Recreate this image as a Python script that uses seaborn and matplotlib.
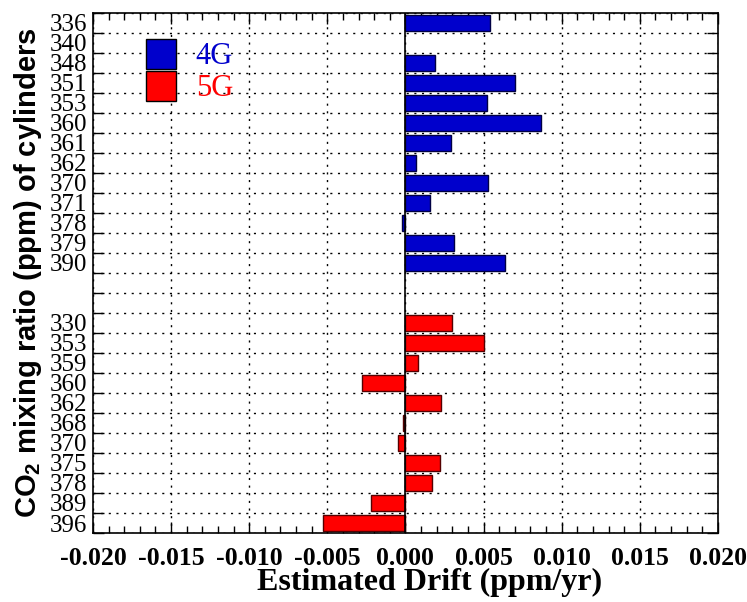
import numpy as np
import pandas as pd
import matplotlib
matplotlib.use('Agg')
import matplotlib.pyplot as plt
import seaborn as sns
from matplotlib.lines import Line2D
from matplotlib.ticker import MultipleLocator, FixedLocator, FuncFormatter

# cylinder labels and estimated drift (ppm/yr)
cyl_4g = ['336', '340', '348', '351', '353', '360', '361', '362', '370', '371', '378', '379', '390']
drift_4g = [0.0054, np.nan, 0.0019, 0.0070, 0.0052, 0.0087, 0.0029, 0.00066, 0.0053, 0.0016, -0.00024, 0.0031, 0.0064]
cyl_5g = ['330', '353', '359', '360', '362', '368', '370', '375', '378', '389', '396']
drift_5g = [0.0030, 0.0050, 0.00083, -0.0028, 0.0023, -0.00015, -0.00047, 0.0022, 0.0017, -0.0022, -0.0053]
gap_rows = ['gap1', 'gap2']

colors = {'4G': '#0000cc', '5G': '#ff0000'}
edges = {'4G': '#000044', '5G': '#550000'}

keys_4g = ['4G ' + c for c in cyl_4g]
keys_5g = ['5G ' + c for c in cyl_5g]
order = keys_4g + gap_rows + keys_5g
ylabels = cyl_4g + ['' for _ in gap_rows] + cyl_5g

df = pd.DataFrame({
    'key': keys_4g + keys_5g,
    'gen': ['4G'] * len(cyl_4g) + ['5G'] * len(cyl_5g),
    'drift': drift_4g + drift_5g,
}).dropna()

sns.set_style('white')
plt.rcParams.update({
    'axes.unicode_minus': False,
    'mathtext.fontset': 'custom',
    'mathtext.bf': 'Liberation Sans:bold',
    'mathtext.rm': 'Liberation Sans:bold',
    'text.color': 'black',
    'axes.labelcolor': 'black',
    'xtick.color': 'black',
    'ytick.color': 'black',
})

fig = plt.figure(figsize=(7.47, 6.02), dpi=100)
ax = fig.add_axes([0.1245, 0.1146, 0.8365, 0.8644])

sns.barplot(data=df, y='key', x='drift', hue='gen', order=order, palette=colors,
            dodge=False, width=0.8, saturation=1, legend=False, ax=ax, errorbar=None)
for p in ax.patches:
    fc = matplotlib.colors.to_hex(p.get_facecolor())
    gen = '4G' if fc == colors['4G'] else '5G'
    p.set_edgecolor(edges[gen])
    p.set_linewidth(1)

ax.set_xlim(-0.02, 0.02)
ax.set_ylim(len(order) - 0.5, -0.5)
ax.axvline(0, color='black', lw=1.2, zorder=3)

ax.xaxis.set_major_locator(MultipleLocator(0.005))
ax.xaxis.set_minor_locator(MultipleLocator(0.001))
ax.xaxis.set_major_formatter(FuncFormatter(lambda v, pos: '%.3f' % (0 if abs(v) < 1e-12 else v)))
ax.yaxis.set_major_locator(FixedLocator(range(len(order))))
ax.set_yticklabels(ylabels)
ax.yaxis.set_minor_locator(FixedLocator(np.arange(-0.5, len(order), 1.0)))

ax.grid(which='minor', axis='y', ls=(0, (1.5, 4)), color='black', lw=1)
ax.grid(which='major', axis='x', ls=(0, (1.5, 4)), color='black', lw=1)
ax.set_axisbelow(True)

ax.tick_params(axis='x', which='both', direction='in', top=True, bottom=True, width=1, color='black')
ax.tick_params(axis='x', which='major', length=8, pad=10)
ax.tick_params(axis='x', which='minor', length=5)
ax.tick_params(axis='y', which='major', length=0, pad=4)
ax.tick_params(axis='y', which='minor', direction='in', left=True, right=True, length=8, width=1, color='black')

for lab in ax.get_yticklabels():
    lab.set_fontfamily('Liberation Serif')
    lab.set_fontsize(18)
for lab in ax.get_xticklabels():
    lab.set_fontfamily('Liberation Serif')
    lab.set_fontweight('bold')
    lab.set_fontsize(18.5)

for s in ax.spines.values():
    s.set_color('black')
    s.set_linewidth(1.2)

ax.set_xlabel('Estimated Drift (ppm/yr)', fontfamily='Liberation Serif', fontweight='bold', fontsize=23, labelpad=1)
ax.xaxis.set_label_coords(0.539, -0.067)
ax.xaxis.label.set_verticalalignment('top')
ax.set_ylabel(r'$\mathbf{CO_2}$ mixing ratio (ppm) of cylinders', fontfamily='Liberation Sans',
              fontweight='bold', fontsize=21, labelpad=4)

handles = [Line2D([], [], ls='none', marker='s', markersize=21, markerfacecolor=colors[g],
                  markeredgecolor='black', markeredgewidth=1, color=colors[g]) for g in ['4G', '5G']]
leg = ax.legend(handles, ['4G', '5G'], loc='upper left', bbox_to_anchor=(0.035, 0.996), frameon=False,
                prop={'family': 'Liberation Serif', 'size': 22}, handlelength=1.2, handletextpad=0.55,
                labelspacing=0.1)
for t, g in zip(leg.get_texts(), ['4G', '5G']):
    t.set_color(colors[g])

fig.savefig('out.png', dpi=100)
